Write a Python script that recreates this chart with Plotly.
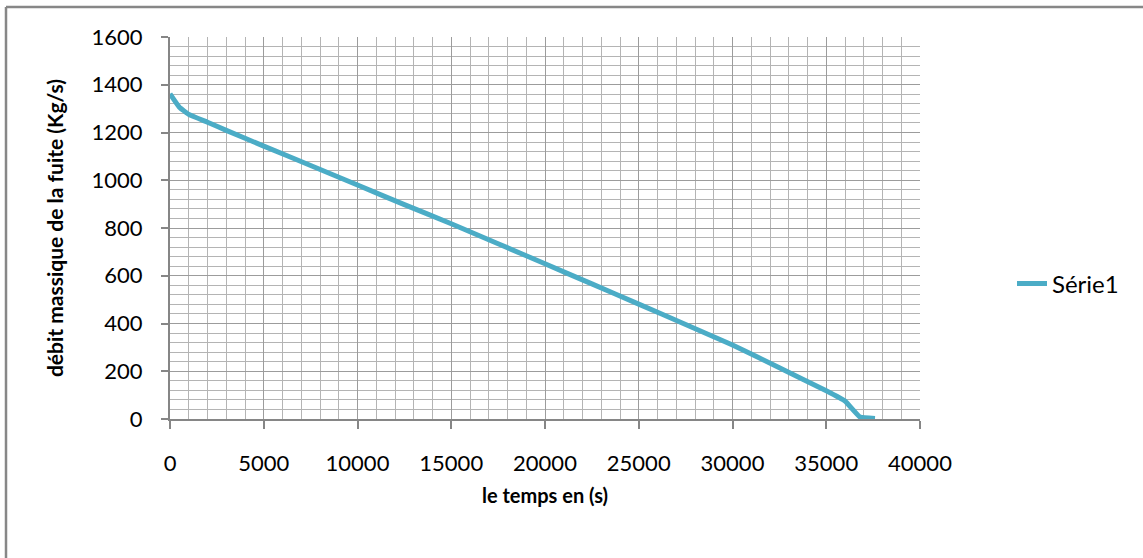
import plotly.graph_objects as go

# Data
temps_s = [0, 500, 1000, 2000, 3000, 5000, 7500, 10000, 12500, 15000, 17500,
           20000, 22500, 25000, 27500, 30000, 32500, 35000, 36000, 36800, 37600]
debit_kgs = [1362, 1306, 1276, 1243, 1209, 1143, 1062, 980, 898, 818, 734,
             650, 566, 481, 396, 310, 215, 118, 75, 8, 2]
series_name = "Série1"
x_title = "le temps en (s)"
y_title = "débit massique de la fuite (Kg/s)"

FONT = "Lato, Calibri, Carlito, sans-serif"

W, H = 1143, 558
L, R, T, B = 170, 223, 37, 139
pw, ph = W - L - R, H - T - B

def px_x(px):
    return (px - L) / pw

def px_y(py):
    return (H - B - py) / ph

fig = go.Figure()
fig.add_trace(go.Scatter(
    x=temps_s, y=debit_kgs, mode="lines", name=series_name,
    line=dict(color="#4bacc6", width=5, shape="spline", smoothing=0.3),
))

fig.update_layout(
    width=W, height=H,
    margin=dict(l=L, r=R, t=T, b=B),
    paper_bgcolor="white", plot_bgcolor="white",
    font=dict(family=FONT, size=22, color="#000000"),
    showlegend=True,
    legend=dict(x=px_x(1012), y=px_y(284), xanchor="left", yanchor="middle",
                font=dict(size=24, family=FONT), bgcolor="rgba(0,0,0,0)"),
    xaxis=dict(
        range=[0, 40000], dtick=5000, tick0=0, tickformat="d",
        showgrid=True, gridcolor="#9c9c9c", gridwidth=1,
        minor=dict(dtick=1000, showgrid=True, gridcolor="#b4b4b4", gridwidth=1,
                   ticks=""),
        showline=True, linecolor="#868686", linewidth=2,
        ticks="outside", ticklen=8, tickcolor="#868686", tickwidth=2,
        ticklabelstandoff=16,
        tickfont=dict(size=22, family=FONT),
        zeroline=False,
        title=dict(text="<b>" + x_title + "</b>", font=dict(size=20, family=FONT),
                   standoff=14),
    ),
    yaxis=dict(
        range=[0, 1600], dtick=200, tick0=0, tickformat="d",
        showgrid=True, gridcolor="#9c9c9c", gridwidth=1,
        minor=dict(dtick=40, showgrid=True, gridcolor="#b4b4b4", gridwidth=1,
                   ticks=""),
        showline=True, linecolor="#868686", linewidth=2,
        ticks="outside", ticklen=7, tickcolor="#868686", tickwidth=2,
        ticklabelstandoff=14,
        tickfont=dict(size=22, family=FONT),
        zeroline=False,
        title=dict(text="<b>" + y_title + "</b>", font=dict(size=21, family=FONT),
                   standoff=22),
    ),
)

# Chart-area border (top and left edges visible in the reference)
fig.add_shape(type="line", xref="paper", yref="paper",
              x0=px_x(6), x1=px_x(1150), y0=px_y(7), y1=px_y(7),
              line=dict(color="#878787", width=2.5))
fig.add_shape(type="line", xref="paper", yref="paper",
              x0=px_x(6), x1=px_x(6), y0=px_y(7), y1=px_y(570),
              line=dict(color="#878787", width=2.5))

fig.write_html("out.html")
